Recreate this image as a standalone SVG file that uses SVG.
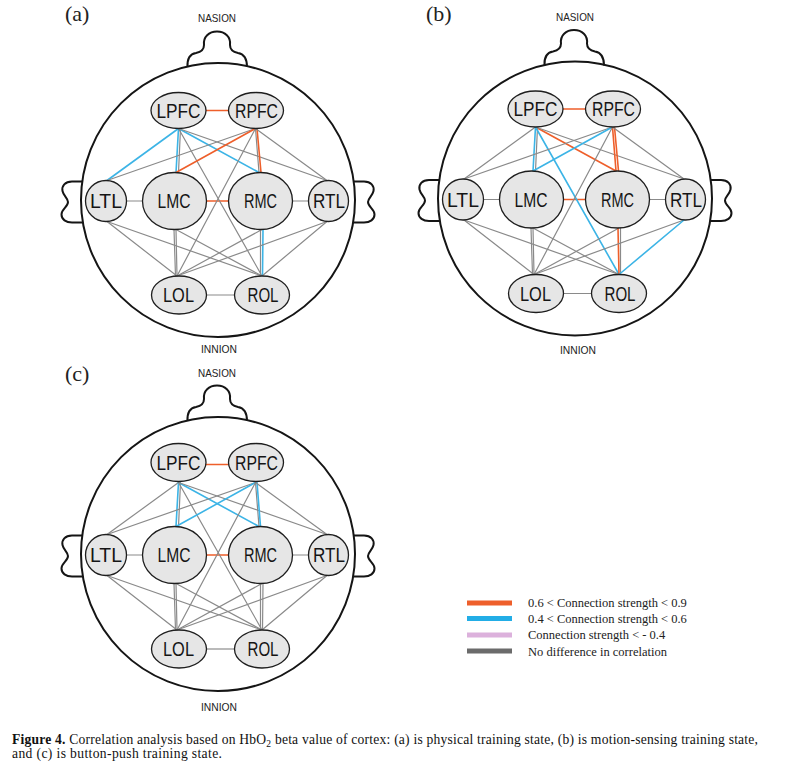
<svg xmlns="http://www.w3.org/2000/svg" width="797" height="775" viewBox="0 0 797 775">
<defs>
<style>
.head{fill:none;stroke:#151515;stroke-width:2}
.nd ellipse{fill:#e6e6e6;stroke:#1e1e1e;stroke-width:1.3}
.nd text{font-family:"Liberation Sans Narrow","Liberation Sans",Arial,sans-serif;font-size:20.5px;fill:#151515;text-anchor:middle}
.lm{font-family:"Liberation Sans Narrow","Liberation Sans",Arial,sans-serif;font-size:10.5px;fill:#222;text-anchor:middle}
.pl{font-family:"Liberation Serif","Times New Roman",serif;font-size:22px;fill:#222}
line{stroke-linecap:round}
.g{stroke:#8a8a8a;stroke-width:1.2}
.o{stroke:#ee5f2b;stroke-width:1.6}
.b{stroke:#3cb4e6;stroke-width:1.6}
.lg{font-family:"Liberation Serif","Times New Roman",serif;font-size:12.5px;fill:#222}
.cap{font-family:"Liberation Serif","Times New Roman",serif;font-size:13.6px;fill:#111}
</style>
<g id="headShape">
<circle cx="218" cy="200" r="137"/>
<path d="M187.5,67 C187,58 190,54 196,53 C201,52 204,50 204,45 C203,37 209,31.5 217,31.5 C225,31.5 231,37 230,45 C230,50 233,52 238,53 C244,54 247,58 247,67"/>
<path d="M83,181.5 L72,181.5 C65,181.5 61.5,186 62.5,191 C63.5,196 68,198 68,202 C68,207 61.5,209 61.5,214.5 C61.5,219.5 66,222.5 72,222.5 L83,222.5"/>
<path d="M353,181.5 L364,181.5 C371,181.5 374.5,186 373.5,191 C372.5,196 368,198 368,202 C368,207 374.5,209 374.5,214.5 C374.5,219.5 370,222.5 364,222.5 L353,222.5"/>
</g>
</defs>

<text class="pl" x="65" y="21">(a)</text>
<text class="pl" x="426" y="21">(b)</text>
<text class="pl" x="65" y="381">(c)</text>

<!-- Panel (a) -->
<g id="panel-a">
<use href="#headShape" class="head"/>
<text class="lm" x="217" y="21.5" textLength="38" lengthAdjust="spacingAndGlyphs">NASION</text>
<text class="lm" x="219" y="353" textLength="36" lengthAdjust="spacingAndGlyphs">INNION</text>
<g id="a-connectors">
<line class="o" x1="205" y1="110.5" x2="229" y2="110.5"/>
<line class="g" x1="126" y1="201" x2="143" y2="201"/>
<line class="o" x1="206" y1="201" x2="229" y2="201"/>
<line class="g" x1="292" y1="201" x2="309" y2="201"/>
<line class="g" x1="206" y1="295" x2="235" y2="295"/>
<line class="b" x1="178.5" y1="128.5" x2="107" y2="180.5"/>
<line class="g" x1="180.5" y1="128.5" x2="178.5" y2="172.5"/>
<line class="b" x1="178.5" y1="128.5" x2="176" y2="172.5"/>
<line class="b" x1="178.5" y1="128.5" x2="259" y2="172.5"/>
<line class="g" x1="178.5" y1="128.5" x2="327" y2="180.5"/>
<line class="g" x1="178.5" y1="128.5" x2="262" y2="276"/>
<line class="g" x1="255.5" y1="128.5" x2="107" y2="180.5"/>
<line class="o" x1="255.5" y1="128.5" x2="176" y2="172.5"/>
<line class="g" x1="255.5" y1="128.5" x2="259" y2="172.5"/>
<line class="o" x1="257" y1="128.5" x2="261" y2="172.5"/>
<line class="g" x1="255.5" y1="128.5" x2="327" y2="180.5"/>
<line class="g" x1="255.5" y1="128.5" x2="177" y2="276"/>
<line class="g" x1="107" y1="221.5" x2="177" y2="276"/>
<line class="g" x1="107" y1="221.5" x2="262" y2="276"/>
<line class="g" x1="176" y1="229.5" x2="177" y2="276"/>
<line class="g" x1="174" y1="229.5" x2="175.5" y2="276"/>
<line class="g" x1="176" y1="229.5" x2="262" y2="276"/>
<line class="g" x1="262" y1="229.5" x2="177" y2="276"/>
<line class="g" x1="260.5" y1="229.5" x2="260.5" y2="276"/>
<line class="b" x1="263" y1="229.5" x2="262.5" y2="276"/>
<line class="g" x1="327" y1="221.5" x2="177" y2="276"/>
<line class="g" x1="327" y1="221.5" x2="262" y2="276"/>
</g>
<g id="a-LPFC" class="nd"><ellipse cx="178.5" cy="110.5" rx="27.5" ry="18"/><text x="178.5" y="117.5" textLength="44" lengthAdjust="spacingAndGlyphs">LPFC</text></g>
<g id="a-RPFC" class="nd"><ellipse cx="256" cy="110.5" rx="27.5" ry="18"/><text x="256.5" y="117.5" textLength="43" lengthAdjust="spacingAndGlyphs">RPFC</text></g>
<g id="a-LTL" class="nd"><ellipse cx="106" cy="201" rx="20.5" ry="20.5"/><text x="106" y="208" textLength="32" lengthAdjust="spacingAndGlyphs">LTL</text></g>
<g id="a-LMC" class="nd"><ellipse cx="174.5" cy="201" rx="32" ry="28.5"/><text x="174" y="208" textLength="33" lengthAdjust="spacingAndGlyphs">LMC</text></g>
<g id="a-RMC" class="nd"><ellipse cx="260.5" cy="201" rx="32" ry="28.5"/><text x="260.5" y="208" textLength="33" lengthAdjust="spacingAndGlyphs">RMC</text></g>
<g id="a-RTL" class="nd"><ellipse cx="328.5" cy="201" rx="20" ry="20.5"/><text x="329" y="208" textLength="32" lengthAdjust="spacingAndGlyphs">RTL</text></g>
<g id="a-LOL" class="nd"><ellipse cx="179" cy="295" rx="27.5" ry="19"/><text x="178.5" y="302" textLength="31" lengthAdjust="spacingAndGlyphs">LOL</text></g>
<g id="a-ROL" class="nd"><ellipse cx="262" cy="295" rx="27.5" ry="19"/><text x="263" y="302" textLength="31" lengthAdjust="spacingAndGlyphs">ROL</text></g>
</g>

<!-- Panel (b) -->
<g id="panel-b" transform="translate(357,-1.5)">
<use href="#headShape" class="head"/>
<text class="lm" x="218" y="22.5" textLength="38" lengthAdjust="spacingAndGlyphs">NASION</text>
<text class="lm" x="221" y="355" textLength="36" lengthAdjust="spacingAndGlyphs">INNION</text>
<g id="b-connectors">
<line class="o" x1="205" y1="110.5" x2="229" y2="110.5"/>
<line class="g" x1="126" y1="201" x2="143" y2="201"/>
<line class="o" x1="206" y1="201" x2="229" y2="201"/>
<line class="g" x1="292" y1="201" x2="309" y2="201"/>
<line class="g" x1="206" y1="295" x2="235" y2="295"/>
<line class="g" x1="178.5" y1="128.5" x2="107" y2="180.5"/>
<line class="g" x1="180.5" y1="128.5" x2="178.5" y2="172.5"/>
<line class="b" x1="178.5" y1="128.5" x2="176" y2="172.5"/>
<line class="o" x1="178.5" y1="128.5" x2="259" y2="172.5"/>
<line class="g" x1="178.5" y1="128.5" x2="327" y2="180.5"/>
<line class="b" x1="178.5" y1="128.5" x2="262" y2="276"/>
<line class="g" x1="255.5" y1="128.5" x2="107" y2="180.5"/>
<line class="b" x1="255.5" y1="128.5" x2="176" y2="172.5"/>
<line class="o" x1="255.5" y1="128.5" x2="259" y2="172.5"/>
<line class="o" x1="257.5" y1="128.5" x2="261.5" y2="172.5"/>
<line class="g" x1="255.5" y1="128.5" x2="327" y2="180.5"/>
<line class="g" x1="255.5" y1="128.5" x2="177" y2="276"/>
<line class="g" x1="107" y1="221.5" x2="177" y2="276"/>
<line class="g" x1="107" y1="221.5" x2="262" y2="276"/>
<line class="g" x1="176" y1="229.5" x2="177" y2="276"/>
<line class="g" x1="174" y1="229.5" x2="175.5" y2="276"/>
<line class="g" x1="176" y1="229.5" x2="262" y2="276"/>
<line class="g" x1="262" y1="229.5" x2="177" y2="276"/>
<line class="g" x1="263.5" y1="229.5" x2="263.5" y2="276"/>
<line class="o" x1="261" y1="229.5" x2="262" y2="276"/>
<line class="g" x1="327" y1="221.5" x2="177" y2="276"/>
<line class="b" x1="327" y1="221.5" x2="262" y2="276"/>
</g>
<g id="b-LPFC" class="nd"><ellipse cx="178.5" cy="110.5" rx="27.5" ry="18"/><text x="178.5" y="117.5" textLength="44" lengthAdjust="spacingAndGlyphs">LPFC</text></g>
<g id="b-RPFC" class="nd"><ellipse cx="256" cy="110.5" rx="27.5" ry="18"/><text x="256.5" y="117.5" textLength="43" lengthAdjust="spacingAndGlyphs">RPFC</text></g>
<g id="b-LTL" class="nd"><ellipse cx="106" cy="201" rx="20.5" ry="20.5"/><text x="106" y="208" textLength="32" lengthAdjust="spacingAndGlyphs">LTL</text></g>
<g id="b-LMC" class="nd"><ellipse cx="174.5" cy="201" rx="32" ry="28.5"/><text x="174" y="208" textLength="33" lengthAdjust="spacingAndGlyphs">LMC</text></g>
<g id="b-RMC" class="nd"><ellipse cx="260.5" cy="201" rx="32" ry="28.5"/><text x="260.5" y="208" textLength="33" lengthAdjust="spacingAndGlyphs">RMC</text></g>
<g id="b-RTL" class="nd"><ellipse cx="328.5" cy="201" rx="20" ry="20.5"/><text x="329" y="208" textLength="32" lengthAdjust="spacingAndGlyphs">RTL</text></g>
<g id="b-LOL" class="nd"><ellipse cx="179" cy="295" rx="27.5" ry="19"/><text x="178.5" y="302" textLength="31" lengthAdjust="spacingAndGlyphs">LOL</text></g>
<g id="b-ROL" class="nd"><ellipse cx="262" cy="295" rx="27.5" ry="19"/><text x="263" y="302" textLength="31" lengthAdjust="spacingAndGlyphs">ROL</text></g>
</g>

<!-- Panel (c) -->
<g id="panel-c" transform="translate(0,354)">
<use href="#headShape" class="head"/>
<text class="lm" x="217" y="22.5" textLength="38" lengthAdjust="spacingAndGlyphs">NASION</text>
<text class="lm" x="219" y="357" textLength="36" lengthAdjust="spacingAndGlyphs">INNION</text>
<g id="c-connectors">
<line class="o" x1="205" y1="110.5" x2="229" y2="110.5"/>
<line class="g" x1="126" y1="201" x2="143" y2="201"/>
<line class="o" x1="206" y1="201" x2="229" y2="201"/>
<line class="g" x1="292" y1="201" x2="309" y2="201"/>
<line class="g" x1="206" y1="295" x2="235" y2="295" style="stroke:#777"/>
<line class="g" x1="178.5" y1="128.5" x2="107" y2="180.5"/>
<line class="g" x1="180.5" y1="128.5" x2="178.5" y2="172.5"/>
<line class="b" x1="178.5" y1="128.5" x2="176" y2="172.5"/>
<line class="b" x1="178.5" y1="128.5" x2="259" y2="172.5"/>
<line class="g" x1="178.5" y1="128.5" x2="327" y2="180.5"/>
<line class="g" x1="178.5" y1="128.5" x2="262" y2="276"/>
<line class="g" x1="255.5" y1="128.5" x2="107" y2="180.5"/>
<line class="b" x1="255.5" y1="128.5" x2="176" y2="172.5"/>
<line class="g" x1="255.5" y1="128.5" x2="259" y2="172.5"/>
<line class="b" x1="257" y1="128.5" x2="260.5" y2="172.5"/>
<line class="g" x1="255.5" y1="128.5" x2="327" y2="180.5"/>
<line class="g" x1="255.5" y1="128.5" x2="177" y2="276"/>
<line class="g" x1="107" y1="221.5" x2="177" y2="276"/>
<line class="g" x1="107" y1="221.5" x2="262" y2="276"/>
<line class="g" x1="176" y1="229.5" x2="177" y2="276"/>
<line class="g" x1="174" y1="229.5" x2="175.5" y2="276"/>
<line class="g" x1="176" y1="229.5" x2="262" y2="276"/>
<line class="g" x1="262" y1="229.5" x2="177" y2="276"/>
<line class="g" x1="260.5" y1="229.5" x2="260.5" y2="276"/>
<line class="g" x1="263" y1="229.5" x2="262.5" y2="276"/>
<line class="g" x1="327" y1="221.5" x2="177" y2="276"/>
<line class="g" x1="327" y1="221.5" x2="262" y2="276"/>
</g>
<g id="c-LPFC" class="nd"><ellipse cx="178.5" cy="108.5" rx="27.5" ry="19"/><text x="178.5" y="115.5" textLength="44" lengthAdjust="spacingAndGlyphs">LPFC</text></g>
<g id="c-RPFC" class="nd"><ellipse cx="256" cy="108.5" rx="27.5" ry="19"/><text x="256.5" y="115.5" textLength="43" lengthAdjust="spacingAndGlyphs">RPFC</text></g>
<g id="c-LTL" class="nd"><ellipse cx="106" cy="201" rx="20.5" ry="20.5"/><text x="106" y="208" textLength="32" lengthAdjust="spacingAndGlyphs">LTL</text></g>
<g id="c-LMC" class="nd"><ellipse cx="174.5" cy="201" rx="32" ry="28.5"/><text x="174" y="208" textLength="33" lengthAdjust="spacingAndGlyphs">LMC</text></g>
<g id="c-RMC" class="nd"><ellipse cx="260.5" cy="201" rx="32" ry="28.5"/><text x="260.5" y="208" textLength="33" lengthAdjust="spacingAndGlyphs">RMC</text></g>
<g id="c-RTL" class="nd"><ellipse cx="328.5" cy="201" rx="20" ry="20.5"/><text x="329" y="208" textLength="32" lengthAdjust="spacingAndGlyphs">RTL</text></g>
<g id="c-LOL" class="nd"><ellipse cx="179" cy="295" rx="27.5" ry="19"/><text x="178.5" y="302" textLength="31" lengthAdjust="spacingAndGlyphs">LOL</text></g>
<g id="c-ROL" class="nd"><ellipse cx="262" cy="295" rx="27.5" ry="19"/><text x="263" y="302" textLength="31" lengthAdjust="spacingAndGlyphs">ROL</text></g>
</g>

<!-- Legend -->
<g id="legend">
<rect x="467" y="600.5" width="45" height="5" fill="#ee5f2b"/>
<rect x="467" y="616" width="45" height="5" fill="#22ade6"/>
<rect x="467" y="632.5" width="45" height="5" fill="#dcb1dc"/>
<rect x="467" y="648.5" width="45" height="5" fill="#6b6b6b"/>
<text class="lg" x="528" y="607">0.6 &lt; Connection strength &lt; 0.9</text>
<text class="lg" x="528" y="623">0.4 &lt; Connection strength &lt; 0.6</text>
<text class="lg" x="528" y="639">Connection strength &lt; - 0.4</text>
<text class="lg" x="528" y="655.5">No difference in correlation</text>
</g>

<!-- Caption -->
<text class="cap" x="12" y="744" textLength="746" lengthAdjust="spacing"><tspan font-weight="bold">Figure 4.</tspan> Correlation analysis based on HbO<tspan font-size="9.5" dy="3">2</tspan><tspan dy="-3"> beta value of cortex: (a) is physical training state, (b) is motion-sensing training state,</tspan></text>
<text class="cap" x="12" y="758" textLength="210" lengthAdjust="spacing">and (c) is button-push training state.</text>
</svg>
